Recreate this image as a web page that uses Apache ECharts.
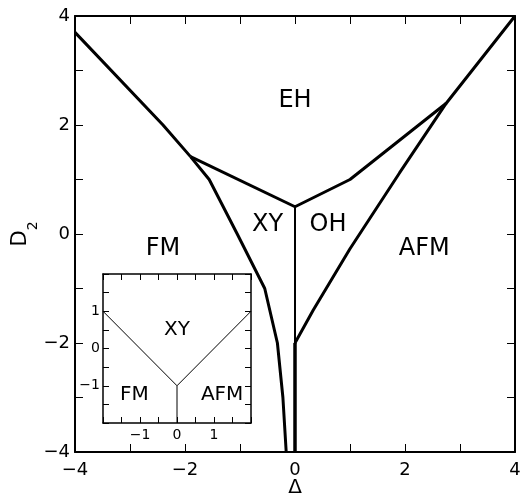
<!DOCTYPE html>
<html>
<head>
<meta charset="utf-8">
<script src="https://cdn.jsdelivr.net/npm/echarts@6/dist/echarts.min.js"></script>
<style>
  html, body { margin: 0; padding: 0; background: #fff; }
  #chart { width: 521px; height: 498px; }
</style>
</head>
<body>
<div id="chart"></div>
<script>
var FONT = '"DejaVu Sans", sans-serif';

// main diagram: phase boundaries, points are [Delta, D2]
var fmEhLine  = [[-4, 3.7], [-2.4, 2.0], [-1.9, 1.42]];
var xyEhLine  = [[-1.9, 1.42], [0, 0.5]];
var ohEhLine  = [[0, 0.5], [1, 1.0], [2.75, 2.4], [4, 4]];
var ohAfmLine = [[0, -2], [0.33, -1.4], [1, -0.27], [1.9, 1.12], [2.75, 2.4]];
var xyFmLine  = [[-1.9, 1.42], [-1.56, 1.0], [-1.05, 0], [-0.55, -1], [-0.32, -2], [-0.22, -3], [-0.16, -4]];
var xyOhLine  = [[0, 0.5], [0, -4]];
var lowerAxisLine = [[0, -2], [0, -4]];

var mainLabels = [
  { name: 'EH',  value: [0, 2.45] },
  { name: 'XY',  value: [-0.5, 0.17] },
  { name: 'OH',  value: [0.6, 0.17] },
  { name: 'FM',  value: [-2.4, -0.28] },
  { name: 'AFM', value: [2.35, -0.28] }
];

// inset: phase boundaries
var insetFmXy  = [[-2, 1], [0, -1]];
var insetAfmXy = [[0, -1], [2, 1]];
var insetFmAfm = [[0, -1], [0, -2]];

var insetLabels = [
  { name: 'XY',  value: [0, 0.5] },
  { name: 'FM',  value: [-1.15, -1.25] },
  { name: 'AFM', value: [1.22, -1.25] }
];

var mainTicks  = { min: -4, max: 4, interval: 1 };
var insetTicks = { min: -2, max: 2, interval: 0.5 };

function minus(v) { return v < 0 ? '\u2212' + (-v) : String(v); }

function mainFmt(v) { return (Math.round(v) % 2 === 0) ? minus(Math.round(v)) : ''; }
function insetFmt(v) {
  return (Math.abs(v - Math.round(v)) < 1e-6 && Math.abs(v) < 1.5) ? minus(Math.round(v)) : '';
}

function makeAxis(grid, pos, range, tickLen, lineW, fontSize, fmt, margin) {
  return {
    type: 'value',
    gridIndex: grid,
    position: pos,
    min: range.min, max: range.max, interval: range.interval,
    axisLine: { show: true, onZero: false, lineStyle: { color: '#000', width: lineW } },
    axisTick: { show: true, inside: true, length: tickLen, lineStyle: { color: '#000', width: 1 } },
    axisLabel: {
      show: !!fmt, formatter: fmt || undefined, color: '#000',
      fontFamily: FONT, fontSize: fontSize, margin: margin,
      showMinLabel: true, showMaxLabel: true, hideOverlap: false
    },
    splitLine: { show: false }
  };
}

function lineSeries(data, xi, yi, w) {
  return {
    type: 'line', data: data, xAxisIndex: xi, yAxisIndex: yi,
    showSymbol: false, silent: true, z: 3,
    lineStyle: { color: '#000', width: w }
  };
}

// region names, placed through the axes by an invisible scatter
function labelSeries(data, xi, yi, size) {
  return {
    type: 'scatter', data: data, xAxisIndex: xi, yAxisIndex: yi,
    symbolSize: 0, silent: true, z: 4,
    itemStyle: { opacity: 1 },
    label: {
      show: true, position: 'inside', formatter: '{b}', color: '#000',
      textBorderWidth: 0, textBorderColor: 'transparent',
      fontFamily: FONT, fontSize: size
    }
  };
}

var xMain = makeAxis(0, 'bottom', mainTicks, 8, 2, 18, mainFmt, 9);
xMain.name = '\u0394';
xMain.nameLocation = 'middle';
xMain.nameGap = 26;
xMain.nameMoveOverlap = false;
xMain.nameTextStyle = { color: '#000', fontFamily: FONT, fontSize: 20 };

var yMain = makeAxis(0, 'left', mainTicks, 8, 2, 18, mainFmt, 5);
yMain.name = '{d|D}{s|2}';
yMain.nameLocation = 'middle';
yMain.nameGap = 35;
yMain.nameMoveOverlap = false;
yMain.nameTextStyle = {
  color: '#000', fontFamily: FONT,
  rich: {
    d: { fontSize: 21, lineHeight: 30, verticalAlign: 'top', fontFamily: FONT, color: '#000' },
    s: { fontSize: 14, lineHeight: 14, verticalAlign: 'bottom', fontFamily: FONT, color: '#000' }
  }
};

var chart = echarts.init(document.getElementById('chart'), null, { renderer: 'canvas' });
chart.setOption({
  backgroundColor: '#fff',
  animation: false,
  grid: [
    { left: 75, top: 16, right: 6, bottom: 46, containLabel: false, outerBoundsMode: 'none' },
    { left: 103, top: 274, width: 148, height: 149, containLabel: false, outerBoundsMode: 'none',
      show: true, backgroundColor: '#fff', borderWidth: 0 }
  ],
  xAxis: [
    xMain,
    makeAxis(0, 'top', mainTicks, 8, 2, 18, null, 5),
    makeAxis(1, 'bottom', insetTicks, 6, 1.5, 14, insetFmt, 5),
    makeAxis(1, 'top', insetTicks, 6, 1.5, 14, null, 4)
  ],
  yAxis: [
    yMain,
    makeAxis(0, 'right', mainTicks, 8, 2, 18, null, 5),
    makeAxis(1, 'left', insetTicks, 6, 1.5, 14, insetFmt, 3),
    makeAxis(1, 'right', insetTicks, 6, 1.5, 14, null, 3)
  ],
  series: [
    lineSeries(fmEhLine, 0, 0, 3),
    lineSeries(xyEhLine, 0, 0, 3),
    lineSeries(ohEhLine, 0, 0, 3),
    lineSeries(ohAfmLine, 0, 0, 3),
    lineSeries(xyFmLine, 0, 0, 3),
    lineSeries(xyOhLine, 0, 0, 2),
    lineSeries(lowerAxisLine, 0, 0, 3.5),
    labelSeries(mainLabels, 0, 0, 24),
    lineSeries(insetFmXy, 2, 2, 1),
    lineSeries(insetAfmXy, 2, 2, 1),
    lineSeries(insetFmAfm, 2, 2, 1),
    labelSeries(insetLabels, 2, 2, 20)
  ]
});
</script>
</body>
</html>
